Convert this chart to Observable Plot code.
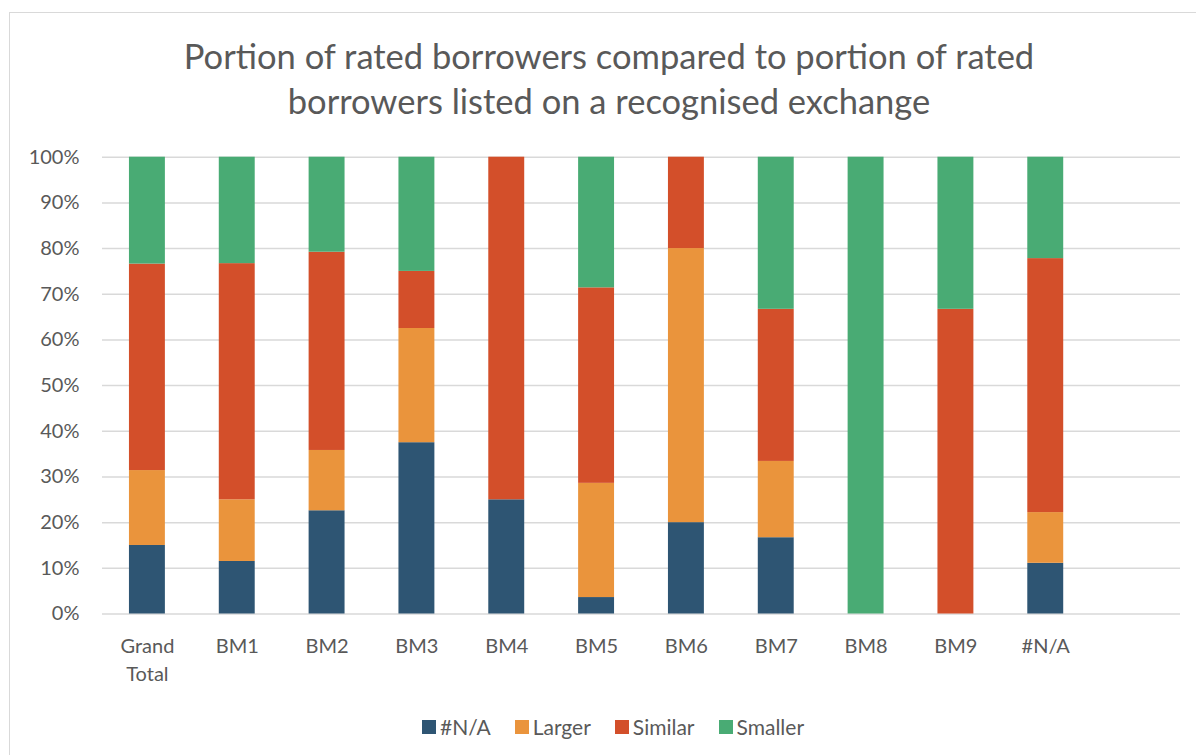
<!DOCTYPE html>
<html>
<head>
<meta charset="utf-8">
<script src="https://cdn.jsdelivr.net/npm/d3@7"></script>
<script src="https://cdn.jsdelivr.net/npm/@observablehq/plot@0.6"></script>
<style>
  html, body { margin: 0; padding: 0; width: 1196px; height: 755px; overflow: hidden; background: #fff; font-family: Lato, "Open Sans", sans-serif; }
  #frame { position: absolute; left: 9px; top: 12px; width: 1200px; height: 760px; border-left: 1.5px solid #d9d9d9; border-top: 1.5px solid #d9d9d9; box-sizing: border-box; }
  #title { position: absolute; left: 9px; width: 1200px; top: 33px; text-align: center; color: #595959; font-size: 34.5px; line-height: 45px; }
  #chart { position: absolute; left: 0; top: 120px; }
  #legend { position: absolute; left: 0; width: 1226px; top: 714px; display: flex; justify-content: center; color: #595959; font-size: 21px; }
  #legend .item { display: flex; align-items: center; margin: 0 12px; }
  #legend .sw { width: 14px; height: 14px; margin-right: 4px; display: inline-block; }
</style>
</head>
<body>
<div id="frame"></div>
<div id="title">Portion of rated borrowers compared to portion of rated<br>borrowers listed on a recognised exchange</div>
<div id="chart"></div>
<div id="legend"></div>
<script>
const categories = ["Grand Total", "BM1", "BM2", "BM3", "BM4", "BM5", "BM6", "BM7", "BM8", "BM9", "#N/A"];
const seriesNames = ["#N/A", "Larger", "Similar", "Smaller"];
const seriesColors = ["#2e5573", "#ea943c", "#d34f2a", "#49ab74"];
const naValues      = [15.0, 11.5, 22.6, 37.5, 25.0,  3.6, 20.0, 16.7,   0,    0, 11.1];
const largerValues  = [16.4, 13.5, 13.2, 25.0,    0, 25.0, 60.0, 16.7,   0,    0, 11.1];
const similarValues = [45.2, 51.7, 43.4, 12.5, 75.0, 42.8, 20.0, 33.3,   0, 66.7, 55.6];
const smallerValues = [23.4, 23.3, 20.8, 25.0,    0, 28.6,    0, 33.3, 100, 33.3, 22.2];
const yTicks = [0, 10, 20, 30, 40, 50, 60, 70, 80, 90, 100];

const seriesValues = [naValues, largerValues, similarValues, smallerValues];
const data = [];
seriesNames.forEach((s, si) => {
  categories.forEach((c, ci) => {
    data.push({category: c, series: s, value: seriesValues[si][ci]});
  });
});

const xDomain = [...categories, " "];

const chart = Plot.plot({
  width: 1196,
  height: 600,
  marginLeft: 102,
  marginRight: 16,
  marginTop: 36.7,
  marginBottom: 106.5,
  style: {fontFamily: "Lato, 'Open Sans', sans-serif", color: "#595959", background: "transparent"},
  x: {domain: xDomain, paddingInner: 0.6, paddingOuter: 0.3, align: 0.5, round: false, label: null},
  y: {domain: [0, 100], label: null},
  color: {domain: seriesNames, range: seriesColors},
  marks: [
    Plot.ruleY(yTicks, {stroke: "#d9d9d9", strokeWidth: 1.5}),
    Plot.barY(data, {x: "category", y: "value", fill: "series"}),
    Plot.axisY(yTicks, {
      tickSize: 0, tickPadding: 23, fontSize: 20, fill: "#595959",
      tickFormat: d => d + "%", label: null
    }),
    Plot.axisX({
      tickSize: 0, tickPadding: 19, fontSize: 20, fill: "#595959", lineHeight: 1.4,
      tickFormat: d => d === "Grand Total" ? "Grand\nTotal" : d, label: null
    })
  ]
});
document.getElementById("chart").appendChild(chart);

const colorScale = chart.scale("color");
const legend = document.getElementById("legend");
colorScale.domain.forEach((s, i) => {
  const item = document.createElement("div");
  item.className = "item";
  const sw = document.createElement("span");
  sw.className = "sw";
  sw.style.background = colorScale.range[i];
  const t = document.createElement("span");
  t.textContent = s;
  item.appendChild(sw);
  item.appendChild(t);
  legend.appendChild(item);
});
</script>
</body>
</html>
